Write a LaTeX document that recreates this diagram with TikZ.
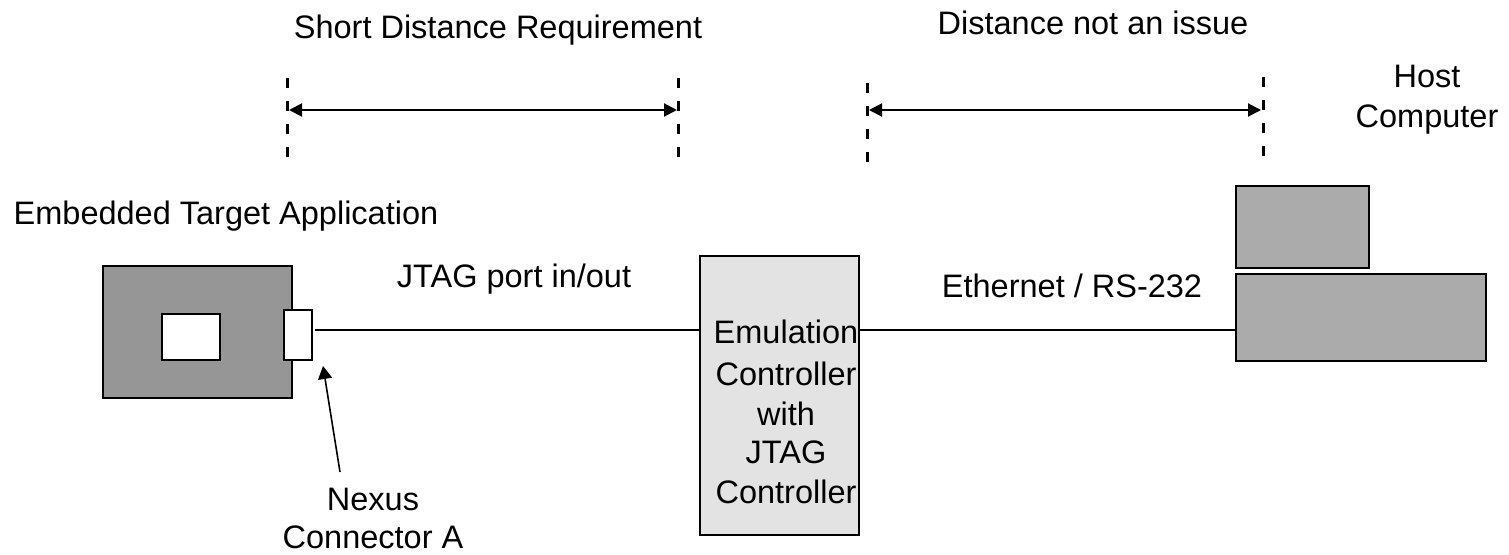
\documentclass[tikz,border=0pt]{standalone}
\usepackage{fontspec}
\setmainfont{Liberation Sans}
\usetikzlibrary{arrows.meta}

\definecolor{boardgray}{HTML}{969696}
\definecolor{emugray}{HTML}{E3E3E3}
\definecolor{hostgray}{HTML}{ABABAB}

\tikzset{
  box/.style={draw=black, line width=2pt, inner sep=0pt, outer sep=0pt},
  label/.style={inner sep=0pt, anchor=base, font=\fontsize{32.5}{40}\selectfont},
  wire/.style={line width=1.5pt},
  bound/.style={line width=3pt, dash pattern=on 10pt off 13pt},
  span/.style={line width=2pt, {Triangle[length=13pt,width=13pt]}-{Triangle[length=13pt,width=13pt]}},
  pointer/.style={line width=1.6pt, -{Triangle[length=13pt,width=14pt]}},
}

\begin{document}
\begin{tikzpicture}[x=1pt, y=-1pt]
\useasboundingbox (0,0) rectangle (1509,554);

% headings
\node[label] (hShort) at (498,38) {Short Distance Requirement};
\node[label] (hFar) at (1093,34) {Distance not an issue};
\node[label] (hHost1) at (1427,87) {Host};
\node[label] (hHost2) at (1427,127) {Computer};
\node[label] (hTarget) at (226,224) {Embedded Target Application};
\node[label] (hJtag) at (514,287) {JTAG port in/out};
\node[label] (hEth) at (1072,297) {Ethernet / RS-232};

% distance markers
\coordinate (d1t) at (287,78);  \coordinate (d1b) at (287,160);
\coordinate (d2t) at (678,78);  \coordinate (d2b) at (678,160);
\coordinate (d3t) at (867,83);  \coordinate (d3b) at (867,165);
\coordinate (d4t) at (1263,77); \coordinate (d4b) at (1263,159);
\draw[bound] (d1t) -- (d1b);
\draw[bound] (d2t) -- (d2b);
\draw[bound] (d3t) -- (d3b);
\draw[bound] (d4t) -- (d4b);
\coordinate (a1l) at (289,110); \coordinate (a1r) at (677,110);
\coordinate (a2l) at (869,110); \coordinate (a2r) at (1261,110);
\draw[span] (a1l) -- (a1r);
\draw[span] (a2l) -- (a2r);

% embedded target board
\node[box, fill=boardgray, minimum width=189pt, minimum height=132pt] (board) at (197.5,332) {};
\node[box, fill=white, minimum width=58pt, minimum height=46pt] (chip) at (191,337) {};
\node[box, fill=white, minimum width=28pt, minimum height=50pt] (conn) at (298,335) {};

% emulation controller
\node[box, fill=emugray, minimum width=159pt, minimum height=279pt] (emu) at (779.5,395.5) {};
\node[label] (e1) at (786,343) {Emulation};
\node[label] (e2) at (786,385) {Controller};
\node[label] (e3) at (786,425) {with};
\node[label] (e4) at (786,463) {JTAG};
\node[label] (e5) at (786,503) {Controller};

% host computer
\node[box, fill=hostgray, minimum width=133pt, minimum height=82pt] (monitor) at (1302.5,227) {};
\node[box, fill=hostgray, minimum width=250pt, minimum height=87pt] (base) at (1361,317.5) {};

% links
\coordinate (lvl) at (0,330);
\draw[wire] ([xshift=3pt]conn.east |- lvl) -- (emu.west |- lvl);
\draw[wire] (emu.east |- lvl) -- (base.west |- lvl);

% connector callout
\node[label] (nx1) at (373,510) {Nexus};
\node[label] (nx2) at (373,548) {Connector A};
\coordinate (ptail) at (340,472);
\coordinate (phead) at (323,366);
\draw[pointer] (ptail) -- (phead);
\end{tikzpicture}
\end{document}
